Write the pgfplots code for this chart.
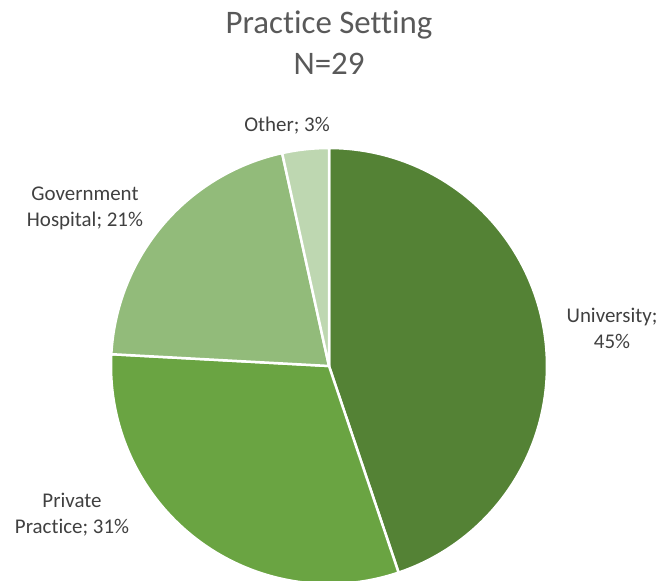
\documentclass[border=0pt]{standalone}
\usepackage{fontspec}
\setmainfont{Carlito}[Ligatures={NoCommon}]
\usepackage{pgfplots}
\pgfplotsset{compat=1.18}
\usepgfplotslibrary{polar}
\definecolor{cUni}{HTML}{548235}
\definecolor{cPriv}{HTML}{6AA442}
\definecolor{cGov}{HTML}{92BB7A}
\definecolor{cOth}{HTML}{BED7B1}
\definecolor{titlegray}{HTML}{595959}
\definecolor{labelgray}{HTML}{404040}
% respondents per setting (N=29)
\def\nUni{13}
\def\nPriv{9}
\def\nGov{6}
\def\nOth{1}
\begin{document}
\begin{tikzpicture}
\useasboundingbox (0bp,0bp) rectangle (661bp,581bp);
\pgfmathsetmacro\tot{\nUni+\nPriv+\nGov+\nOth}
\pgfmathsetmacro\aA{90}
\pgfmathsetmacro\aB{\aA-360*\nUni/\tot}
\pgfmathsetmacro\aC{\aB-360*\nPriv/\tot}
\pgfmathsetmacro\aD{\aC-360*\nGov/\tot}
\pgfmathsetmacro\aE{\aD-360*\nOth/\tot}
\begin{polaraxis}[
  at={(329bp,215bp)}, anchor=origin,
  width=436bp, height=436bp, scale only axis,
  xmin=0, xmax=360, ymin=0, ymax=1,
  hide axis, clip=false,
  every axis plot/.append style={draw=white, line width=2.5bp, line join=round, samples=120},
]
\addplot[fill=cUni, domain=\aB:\aA] {1} -- (axis cs:0,0) -- cycle;
\addplot[fill=cPriv, domain=\aC:\aB] {1} -- (axis cs:0,0) -- cycle;
\addplot[fill=cGov, domain=\aD:\aC] {1} -- (axis cs:0,0) -- cycle;
\addplot[fill=cOth, domain=\aE:\aD] {1} -- (axis cs:0,0) -- cycle;
\end{polaraxis}
\begin{scope}[every node/.style={font=\fontsize{21}{26}\selectfont, text=labelgray, align=center}]
\node at (612bp,253bp) {University;\\45\%};
\node at (72bp,66bp) {Private\\Practice; 31\%};
\node at (85bp,373bp) {Government\\Hospital; 21\%};
\node at (287bp,455bp) {Other; 3\%};
\end{scope}
\node[font=\fontsize{33}{41}\selectfont, text=titlegray, align=center] at (329bp,538bp) {Practice Setting\\N=29};
\end{tikzpicture}
\end{document}
